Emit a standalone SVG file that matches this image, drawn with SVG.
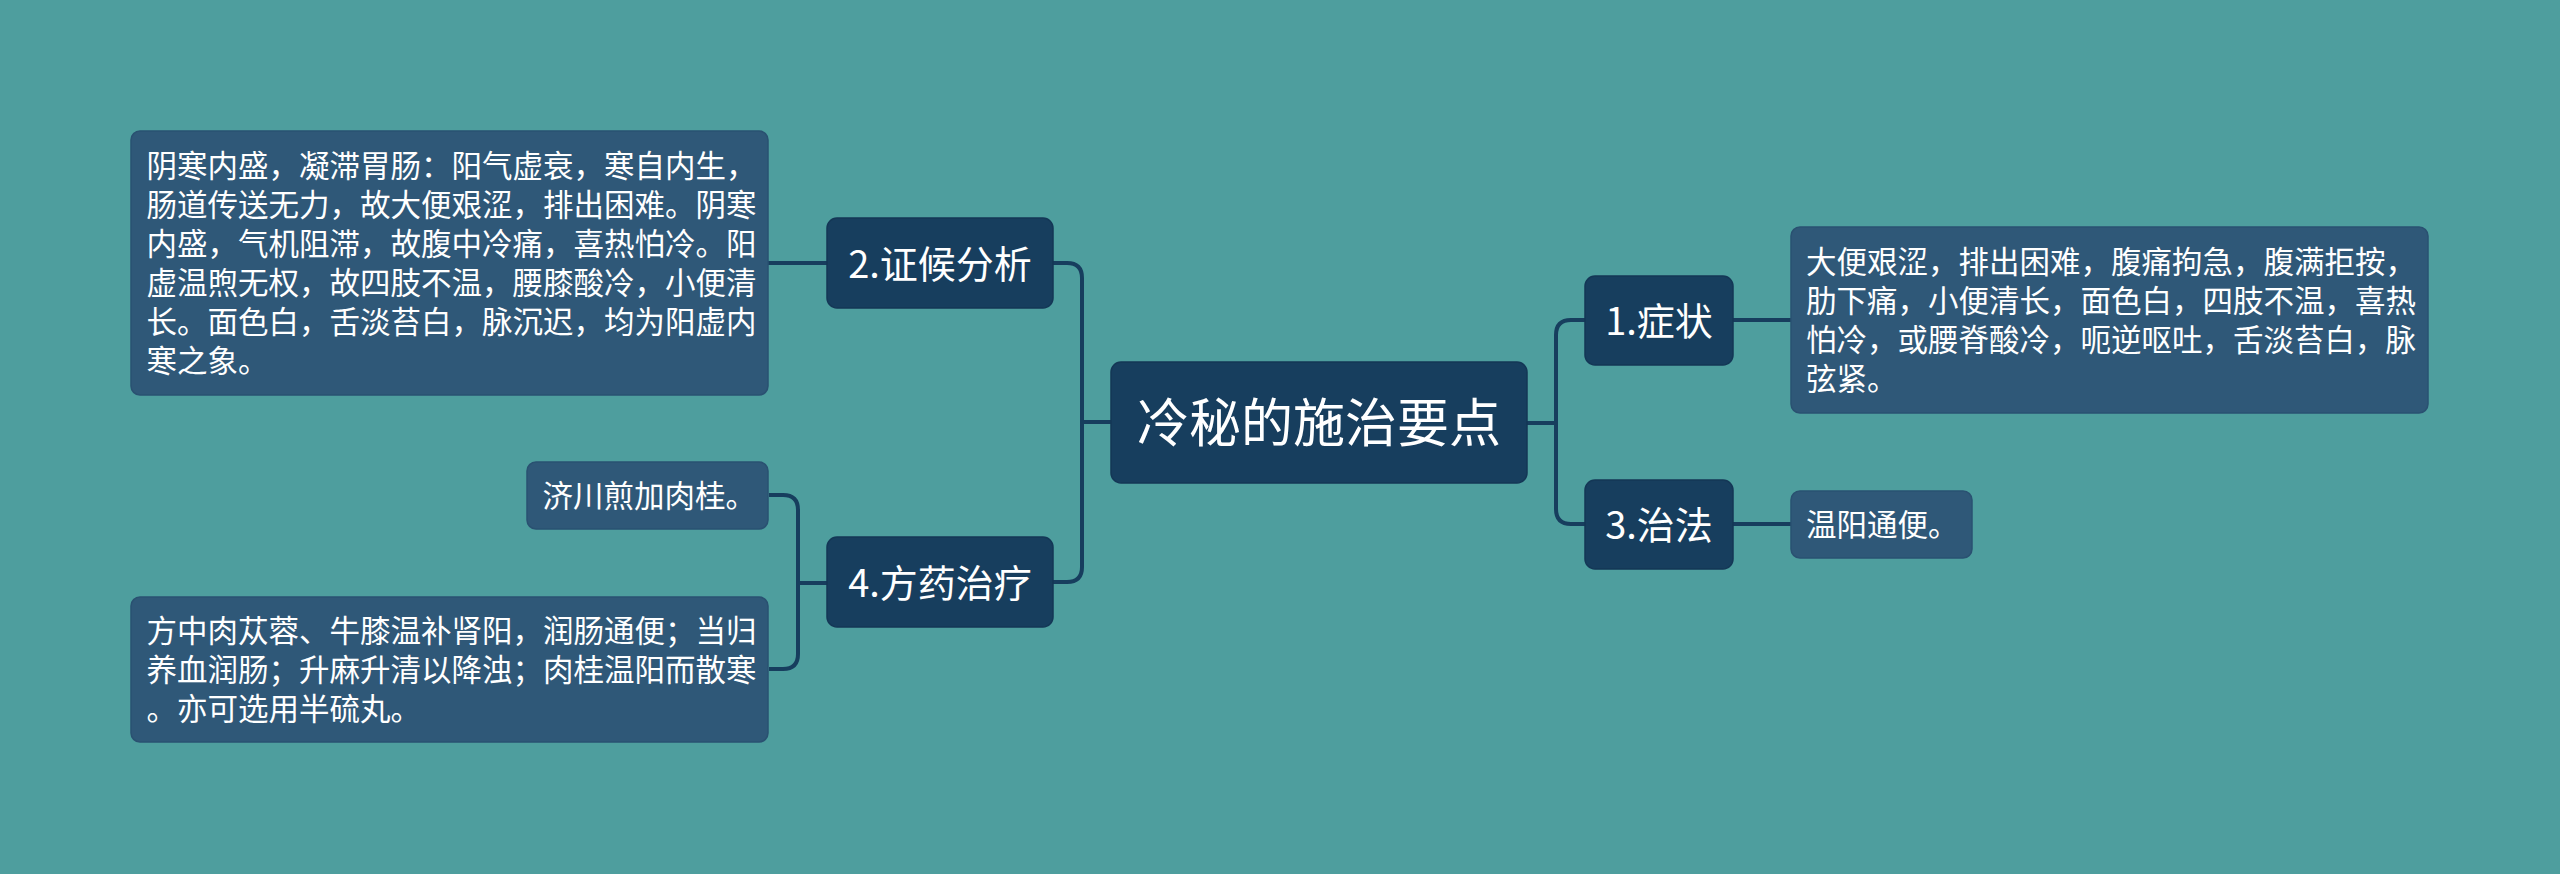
<svg xmlns="http://www.w3.org/2000/svg" width="2560" height="874" viewBox="0 0 2560 874">
<style>
.bg{fill:#4E9E9E}
.node{fill:#173E5E;stroke:#143756;stroke-width:1.5}
.leaf{fill:#2F5878;stroke:#2A5171;stroke-width:1.5}
.conn{fill:none;stroke:#173E5E;stroke-width:4;stroke-linecap:butt}
text{font-family:"Noto Sans CJK SC","Noto Sans",sans-serif;fill:#FFFFFF}
.t0{font-size:52px;text-anchor:middle}
.t1{font-size:38px;text-anchor:middle}
.t2{font-size:30.5px}
</style>
<rect class="bg" x="0" y="0" width="2560" height="874"/>
<g id="connectors">
<path class="conn" d="M1111,422 H1082"/>
<path class="conn" d="M1053,263 H1067 Q1082,263 1082,278 V567 Q1082,582 1067,582 H1053"/>
<path class="conn" d="M827,263 H768"/>
<path class="conn" d="M827,583 H798"/>
<path class="conn" d="M769,495 H783 Q798,495 798,510 V654 Q798,669 783,669 H769"/>
<path class="conn" d="M1527,423 H1556"/>
<path class="conn" d="M1585,320 H1571 Q1556,320 1556,335 V509 Q1556,524 1571,524 H1585"/>
<path class="conn" d="M1733,320 H1791"/>
<path class="conn" d="M1733,524 H1791"/>
</g>
<g id="center">
<rect class="node" x="1111" y="362" width="416" height="121" rx="10"/>
<text class="t0" x="1319" y="442">冷秘的施治要点</text>
</g>
<g id="n1">
<rect class="node" x="1585" y="276" width="148" height="89" rx="10"/>
<text class="t1" x="1659" y="335">1.症状</text>
</g>
<g id="n3">
<rect class="node" x="1585" y="480" width="148" height="89" rx="10"/>
<text class="t1" x="1659" y="539">3.治法</text>
</g>
<g id="n2">
<rect class="node" x="827" y="218" width="226" height="90" rx="10"/>
<text class="t1" x="940" y="277.5">2.证候分析</text>
</g>
<g id="n4">
<rect class="node" x="827" y="537" width="226" height="90" rx="10"/>
<text class="t1" x="940" y="596.5">4.方药治疗</text>
</g>
<g id="leaf1">
<rect class="leaf" x="1791" y="227" width="637" height="186" rx="9"/>
<text class="t2" x="1806" y="273">大便艰涩，排出困难，腹痛拘急，腹满拒按，</text>
<text class="t2" x="1806" y="312">肋下痛，小便清长，面色白，四肢不温，喜热</text>
<text class="t2" x="1806" y="351">怕冷，或腰脊酸冷，呃逆呕吐，舌淡苔白，脉</text>
<text class="t2" x="1806" y="390">弦紧。</text>
</g>
<g id="leaf3">
<rect class="leaf" x="1791" y="491" width="181" height="67" rx="9"/>
<text class="t2" x="1806" y="536">温阳通便。</text>
</g>
<g id="leaf2">
<rect class="leaf" x="131" y="131" width="637" height="264" rx="9"/>
<text class="t2" x="146.5" y="177">阴寒内盛，凝滞胃肠：阳气虚衰，寒自内生，</text>
<text class="t2" x="146.5" y="216">肠道传送无力，故大便艰涩，排出困难。阴寒</text>
<text class="t2" x="146.5" y="255">内盛，气机阻滞，故腹中冷痛，喜热怕冷。阳</text>
<text class="t2" x="146.5" y="294">虚温煦无权，故四肢不温，腰膝酸冷，小便清</text>
<text class="t2" x="146.5" y="333">长。面色白，舌淡苔白，脉沉迟，均为阳虚内</text>
<text class="t2" x="146.5" y="372">寒之象。</text>
</g>
<g id="leaf4a">
<rect class="leaf" x="527" y="462" width="241" height="67" rx="9"/>
<text class="t2" x="542.5" y="507">济川煎加肉桂。</text>
</g>
<g id="leaf4b">
<rect class="leaf" x="131" y="597" width="637" height="145" rx="9"/>
<text class="t2" x="146.5" y="642">方中肉苁蓉、牛膝温补肾阳，润肠通便；当归</text>
<text class="t2" x="146.5" y="681">养血润肠；升麻升清以降浊；肉桂温阳而散寒</text>
<text class="t2" x="146.5" y="720">。亦可选用半硫丸。</text>
</g>
</svg>
